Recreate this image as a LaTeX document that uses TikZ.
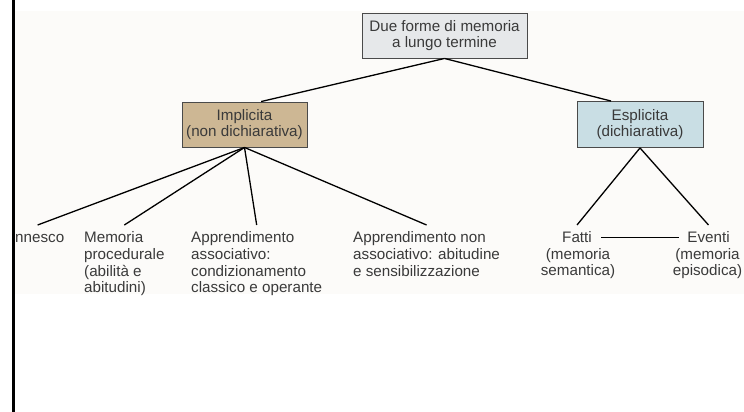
\documentclass[tikz,border=0pt]{standalone}
\usepackage{fontspec}
\setmainfont{Liberation Sans}
\usepackage{xcolor}
\usepackage{tikz}
\usetikzlibrary{calc}
\definecolor{paper}{HTML}{FCFBF9}
\definecolor{ink}{HTML}{3A3A3A}
\definecolor{frame}{HTML}{4A4A4A}
\definecolor{rootbg}{HTML}{E6E8EA}
\definecolor{implbg}{HTML}{CDB794}
\definecolor{esplbg}{HTML}{C9DEE4}
\tikzset{
  box/.style={draw=frame, line width=0.9pt, text=ink, align=center, inner sep=0pt,
    font=\fontsize{15.2}{16.7}\selectfont},
  leaf/.style={text=ink, align=left, inner xsep=0pt, inner ysep=6.5pt, anchor=north west,
    font=\fontsize{15.2}{16.7}\selectfont},
  leafc/.style={leaf, align=center, anchor=north},
  link/.style={draw=black, line width=1.3pt},
}

\begin{document}
\begin{tikzpicture}[x=1pt, y=-1pt]
  \useasboundingbox (0,0) rectangle (744,412);
  \fill[paper] (15,11) rectangle (744,294);
  % top level
  \node[box, fill=rootbg, minimum width=165pt, minimum height=45pt] (root) at (444.5,35.5)
    {Due forme di memoria\\a lungo termine};
  \node[box, fill=implbg, minimum width=125pt, minimum height=45pt] (impl) at (244.5,124.5)
    {Implicita\\(non dichiarativa)};
  \node[box, fill=esplbg, minimum width=126pt, minimum height=46pt] (espl) at (640,124.5)
    {Esplicita\\(dichiarativa)};
  \draw[link] (root.south) -- (impl.54);
  \draw[link] (root.south) -- (espl.141);
  % implicit memory
  \node[leaf] (innesco) at (10.8,225) {Innesco};
  \node[leaf] (proc) at (84,225) {Memoria\\procedurale\\(abilità e\\abitudini)};
  \node[leaf] (assoc) at (191,225) {Apprendimento\\associativo:\\condizionamento\\classico e operante};
  \node[leaf] (nonassoc) at (353,225) {Apprendimento non\\associativo: abitudine\\e sensibilizzazione};
  \foreach \n in {innesco,proc,assoc,nonassoc}
    \draw[link] (impl.south) -- (\n.north);
  % explicit memory
  \node[leafc] (fatti) at (577,225) {Fatti};
  \node[leafc, inner ysep=0pt] (fattisub) at (578,247.8) {(memoria\\semantica)};
  \node[leafc] (eventi) at (708.5,225) {Eventi};
  \node[leafc, inner ysep=0pt] (eventisub) at (707.5,247.8) {(memoria\\episodica)};
  \draw[link] (espl.south) -- (fatti.north);
  \draw[link] (espl.south) -- (eventi.north);
  \draw[link, shorten <=9.5pt, shorten >=8pt] (fatti) -- (eventi);
  % left rule
  \draw[line width=3pt] (13.2,0) -- (13.2,412);
\end{tikzpicture}
\end{document}
